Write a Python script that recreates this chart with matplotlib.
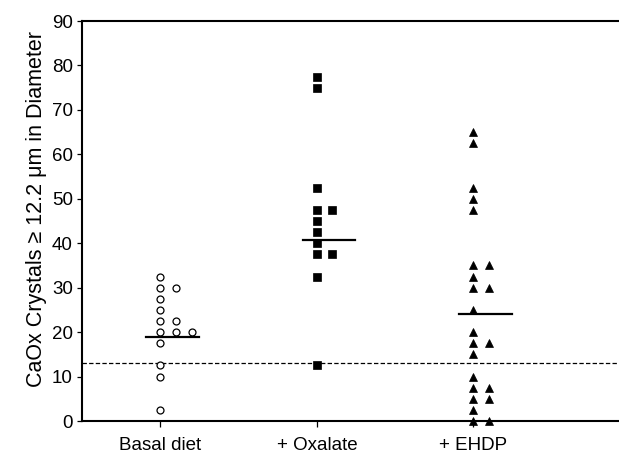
import matplotlib
matplotlib.use("Agg")
import matplotlib.pyplot as plt
from collections import Counter

plt.rcParams['font.family'] = ['Liberation Sans', 'DejaVu Sans']

groups = ["Basal diet", "+ Oxalate", "+ EHDP"]
basal = [32.5, 30, 30, 27.5, 25, 22.5, 22.5, 20, 20, 20, 17.5, 12.5, 10, 2.5]
oxalate = [77.5, 75, 52.5, 47.5, 47.5, 45, 42.5, 40, 37.5, 37.5, 32.5, 12.5]
ehdp = [65, 62.5, 52.5, 50, 47.5, 35, 35, 32.5, 30, 30, 25, 20, 17.5, 17.5,
        15, 10, 7.5, 7.5, 5, 5, 2.5, 0, 0]
center_lines = [18.8, 40.8, 24.0]
threshold = 13.0
yticks = list(range(0, 91, 10))

series = [basal, oxalate, ehdp]
markers = [dict(marker='o', mfc='white', mec='black', ms=5.0, mew=0.9),
           dict(marker='s', mfc='black', mec='black', ms=5.2, mew=0.5),
           dict(marker='^', mfc='black', mec='black', ms=5.6, mew=0.5)]

fig = plt.figure(figsize=(6.19, 4.54), dpi=100)
ax = fig.add_axes([82 / 619, 33 / 454, 1 - 82 / 619, 400 / 454])

step = 0.1
for i, (vals, mk) in enumerate(zip(series, markers)):
    xc = i + 1
    seen = Counter()
    xs = []
    for v in vals:
        xs.append(xc + seen[v] * step)
        seen[v] += 1
    ax.plot(xs, vals, linestyle='none', clip_on=False, zorder=3, **mk)
    ax.plot([xc - 0.09, xc + 0.245], [center_lines[i]] * 2, color='black',
            lw=1.6, zorder=4)

ax.axhline(threshold, color='black', lw=0.9, linestyle=(0, (3.5, 1.8)), zorder=2)

ax.set_xlim(0.5, 3.93)
ax.set_ylim(0, 90)
ax.set_xticks([1, 2, 3])
ax.set_xticklabels(groups, fontsize=13.5)
ax.set_yticks(yticks)
ax.tick_params(axis='y', labelsize=13.5, direction='out', length=3.5, width=0.9, pad=3)
ax.tick_params(axis='x', labelsize=13.5, direction='out', length=4.5, width=0.9, pad=7)
ax.spines['right'].set_visible(False)
for s in ['left', 'top', 'bottom']:
    ax.spines[s].set_linewidth(1.5)
ax.set_ylabel("CaOx Crystals \u2265 12.2 \u03bcm in Diameter", fontsize=15.5)
ax.yaxis.set_label_coords(-0.066, 0.53)

fig.savefig("out.png", dpi=100)
